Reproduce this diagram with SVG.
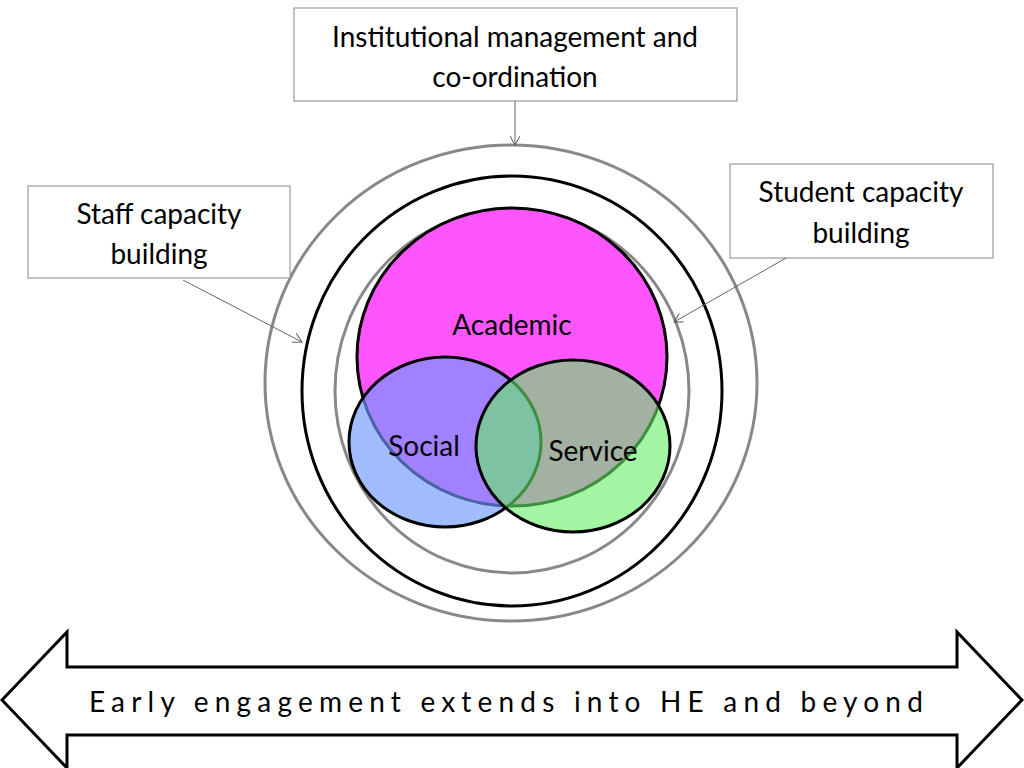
<svg xmlns="http://www.w3.org/2000/svg" width="1024" height="768" viewBox="0 0 1024 768">
<defs>
<marker id="ah" markerWidth="10" markerHeight="10" refX="9" refY="5" orient="auto" markerUnits="userSpaceOnUse"><path d="M0,0 L9,5 L0,10" fill="none" stroke="#555" stroke-width="1"/></marker>
<style>
.box{fill:#fff;stroke:#999;stroke-width:1.2}
.t{font-family:Lato,"Open Sans",sans-serif;font-size:28px;fill:#000;text-anchor:middle}
.c{stroke:#666;stroke-width:1;fill:none;marker-end:url(#ah)}
</style>
</defs>
<rect width="1024" height="768" fill="#fff"/>
<g id="rings">
<ellipse cx="511" cy="383" rx="246" ry="238" fill="none" stroke="#888" stroke-width="3"/>
<ellipse cx="512" cy="391" rx="210" ry="215" fill="none" stroke="#000" stroke-width="3"/>
<ellipse cx="512" cy="391" rx="177" ry="182" fill="none" stroke="#888" stroke-width="3"/>
</g>
<g id="academic"><ellipse cx="512" cy="357" rx="155" ry="149" fill="#ff55ff" stroke="#000" stroke-width="3"/><text class="t" x="512" y="335">Academic</text></g>
<g id="social"><ellipse cx="445" cy="442" rx="96" ry="85" fill="#6f99ff" fill-opacity="0.65" stroke="#000" stroke-width="3"/></g>
<g id="service"><ellipse cx="573" cy="446" rx="97" ry="86" fill="#66ee66" fill-opacity="0.6" stroke="#000" stroke-width="3"/></g>
<text class="t" x="424" y="456">Social</text>
<text class="t" x="593" y="461">Service</text>
<g id="inst"><rect class="box" x="294" y="8" width="443" height="93"/><text class="t" x="515" y="47">Institutional management and</text><text class="t" x="515" y="87">co-ordination</text></g>
<g id="staff"><rect class="box" x="28" y="186" width="262" height="92"/><text class="t" x="159" y="224">Staff capacity</text><text class="t" x="159" y="264">building</text></g>
<g id="student"><rect class="box" x="730" y="164" width="263" height="94"/><text class="t" x="861" y="202">Student capacity</text><text class="t" x="861" y="243">building</text></g>
<g id="connectors">
<line class="c" x1="515" y1="101" x2="515" y2="145"/>
<line class="c" x1="183" y1="280" x2="302" y2="342"/>
<line class="c" x1="786" y1="258" x2="674" y2="322"/>
</g>
<g id="timeline">
<path d="M2,700 L67,632 L67,667 L957,667 L957,632 L1022,700 L957,768 L957,735 L67,735 L67,768 Z" fill="#fff" stroke="#000" stroke-width="3" stroke-linejoin="miter"/>
<text x="509" y="712" font-family="Lato,'Open Sans',sans-serif" font-size="28" letter-spacing="6.2" text-anchor="middle">Early engagement extends into HE and beyond</text>
</g>
</svg>
